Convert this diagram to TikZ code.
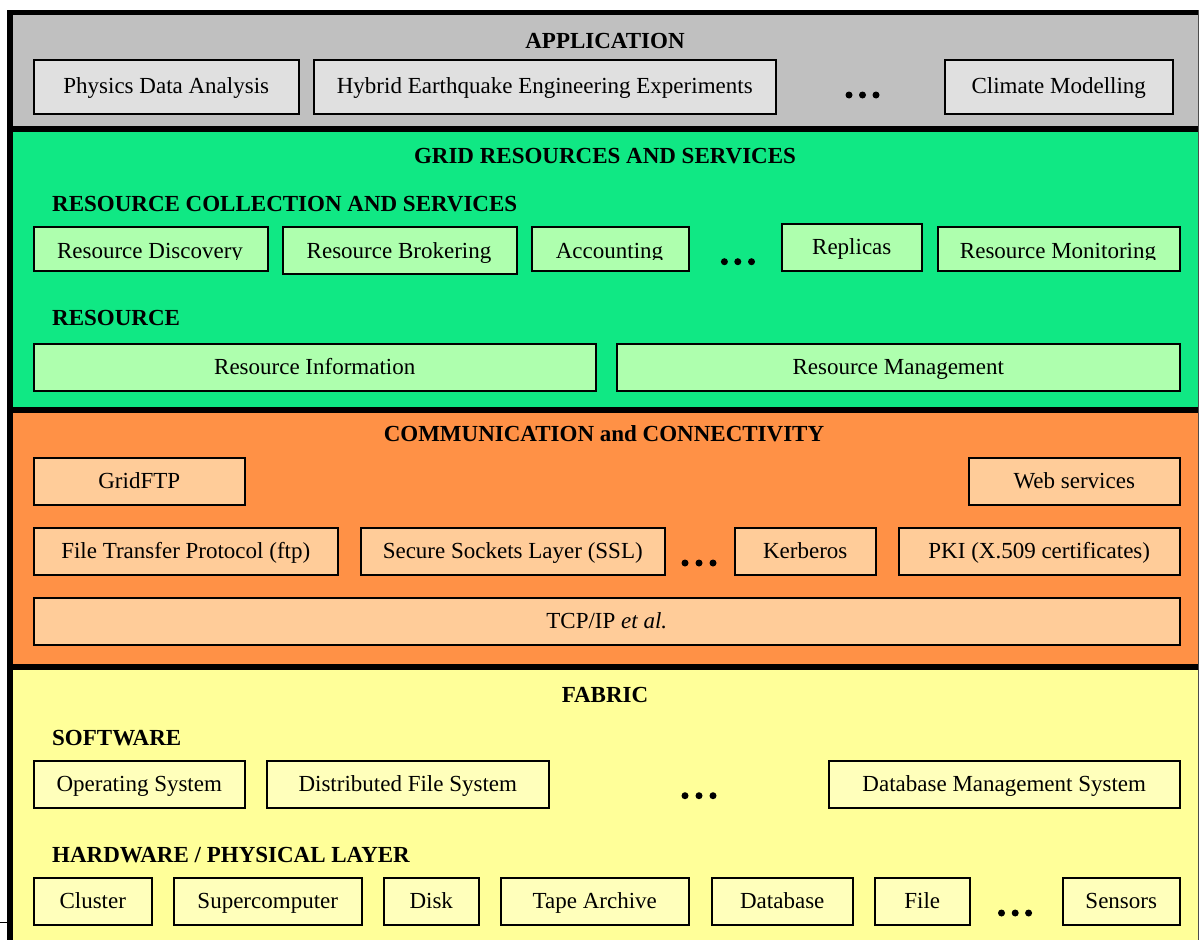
\documentclass[tikz,border=0pt]{standalone}
\usepackage{fontspec}
\setmainfont{Liberation Serif}
\definecolor{appgray}{HTML}{C0C0C0}
\definecolor{appbox}{HTML}{E0E0E0}
\definecolor{gridgreen}{HTML}{10E884}
\definecolor{gridbox}{HTML}{AEFFAE}
\definecolor{commorange}{HTML}{FF9146}
\definecolor{commbox}{HTML}{FFCC99}
\definecolor{fabyellow}{HTML}{FFFF99}
\definecolor{fabbox}{HTML}{FFFFBB}
\newcommand{\basefont}{\fontsize{23}{27}\selectfont}
\tikzset{
  boxnode/.style={draw=black, line width=1.5pt, anchor=north west, inner sep=0pt,
    text height=18pt, text depth=4pt, align=center},
  headtxt/.style={anchor=base, inner sep=0pt, font=\basefont\bfseries},
  subhead/.style={anchor=base west, inner sep=0pt, font=\basefont\bfseries},
  plaintxt/.style={anchor=base, inner sep=0pt},
  dotmark/.style={fill=black},
}
\newcommand{\mybox}[7]{% name, fill, x1, y1, x2, y2, text
  \pgfmathsetmacro{\bw}{#5-#3}\pgfmathsetmacro{\bh}{#6-#4}%
  \node[boxnode, fill=#2, minimum width=\bw pt, minimum height=\bh pt] (#1) at (#3,#4) {#7};}
\newcommand{\mydots}[4]{% x1 x2 x3 y
  \fill[dotmark] (#1,#4) circle (3.5pt) (#2,#4) circle (3.5pt) (#3,#4) circle (3.5pt);}
\begin{document}
\begin{tikzpicture}[x=1pt, y=-1pt, font=\basefont]
\useasboundingbox (0,0) rectangle (1199,940);
% layer fills
\fill[appgray] (12,15) rectangle (1198,126);
\fill[gridgreen] (12,132) rectangle (1198,407);
\fill[commorange] (12,413) rectangle (1198,664);
\fill[fabyellow] (12,670) rectangle (1198,940);
% frame and separators
\fill[black] (7,10) rectangle (1199,15);
\fill[black] (7,126) rectangle (1199,132);
\fill[black] (7,407) rectangle (1199,413);
\fill[black] (7,664) rectangle (1199,670);
\fill[black] (7,10) rectangle (12.5,940);
\fill[black!70] (1197.5,10) rectangle (1199,940);
\draw[line width=1pt] (0,922) -- (7,922);

% APPLICATION
\node[headtxt] (apptitle) at (605,48) {APPLICATION};
\mybox{phys}{appbox}{33}{59}{298}{113}{Physics Data Analysis}
\mybox{hyb}{appbox}{313}{59}{775}{113}{Hybrid Earthquake Engineering Experiments}
\mybox{clim}{appbox}{944}{59}{1172}{113}{Climate Modelling}
\mydots{849}{862.5}{876}{95}

% GRID
\node[headtxt] (gridtitle) at (605,163) {GRID RESOURCES AND SERVICES};
\node[subhead] (rcstitle) at (52,211) {RESOURCE COLLECTION AND SERVICES};
\mybox{rdisc}{gridbox}{33}{226}{267}{270}{}
\mybox{rbrok}{gridbox}{282}{226}{516}{273}{}
\mybox{acct}{gridbox}{531}{226}{688}{270}{}
\mybox{repl}{gridbox}{781}{223}{921}{270}{Replicas}
\mybox{rmon}{gridbox}{937}{226}{1179}{270}{}
\node[plaintxt] (rbroktxt) at (399,258) {Resource Brokering};
\begin{scope}
\clip (0,200) rectangle (1199,259.5);
\node[plaintxt] (rdisctxt) at (150,258) {Resource Discovery};
\node[plaintxt] (accttxt) at (609.5,258) {Accounting};
\node[plaintxt] (rmontxt) at (1058,258) {Resource Monitoring};
\end{scope}
\mydots{724.4}{737.8}{751.5}{261.7}
\node[subhead] (restitle) at (52,325) {RESOURCE};
\mybox{rinfo}{gridbox}{33}{343}{595}{390}{Resource Information}
\mybox{rmgmt}{gridbox}{616}{343}{1179}{390}{Resource Management}

% COMMUNICATION
\node[headtxt] (commtitle) at (604,441) {COMMUNICATION and CONNECTIVITY};
\mybox{gftp}{commbox}{33}{457}{244}{504}{GridFTP}
\mybox{webs}{commbox}{968}{457}{1179}{504}{Web services}
\mybox{ftp}{commbox}{33}{527}{337}{574}{File Transfer Protocol (ftp)}
\mybox{ssl}{commbox}{360}{527}{664}{574}{Secure Sockets Layer (SSL)}
\mybox{kerb}{commbox}{734}{527}{875}{574}{Kerberos}
\mybox{pki}{commbox}{898}{527}{1179}{574}{PKI (X.509 certificates)}
\mydots{685}{699}{713}{563}
\mybox{tcp}{commbox}{33}{597}{1179}{644}{TCP/IP \textit{et al.}}

% FABRIC
\node[headtxt] (fabtitle) at (605,702) {FABRIC};
\node[subhead] (swtitle) at (52,745) {SOFTWARE};
\mybox{os}{fabbox}{33}{760}{244}{807}{Operating System}
\mybox{dfs}{fabbox}{266}{760}{548}{807}{Distributed File System}
\mybox{dbms}{fabbox}{828}{760}{1179}{807}{Database Management System}
\mydots{685}{699}{713}{795.7}
\node[subhead] (hwtitle) at (52,862) {HARDWARE / PHYSICAL LAYER};
\mybox{clus}{fabbox}{33}{877}{151}{924}{Cluster}
\mybox{sup}{fabbox}{173}{877}{361}{924}{Supercomputer}
\mybox{disk}{fabbox}{383}{877}{478}{924}{Disk}
\mybox{tape}{fabbox}{500}{877}{688}{924}{Tape Archive}
\mybox{db}{fabbox}{711}{877}{852}{924}{Database}
\mybox{file}{fabbox}{874}{877}{969}{924}{File}
\mybox{sens}{fabbox}{1062}{877}{1179}{924}{Sensors}
\mydots{1001.5}{1015.2}{1028.6}{913}
\end{tikzpicture}
\end{document}
